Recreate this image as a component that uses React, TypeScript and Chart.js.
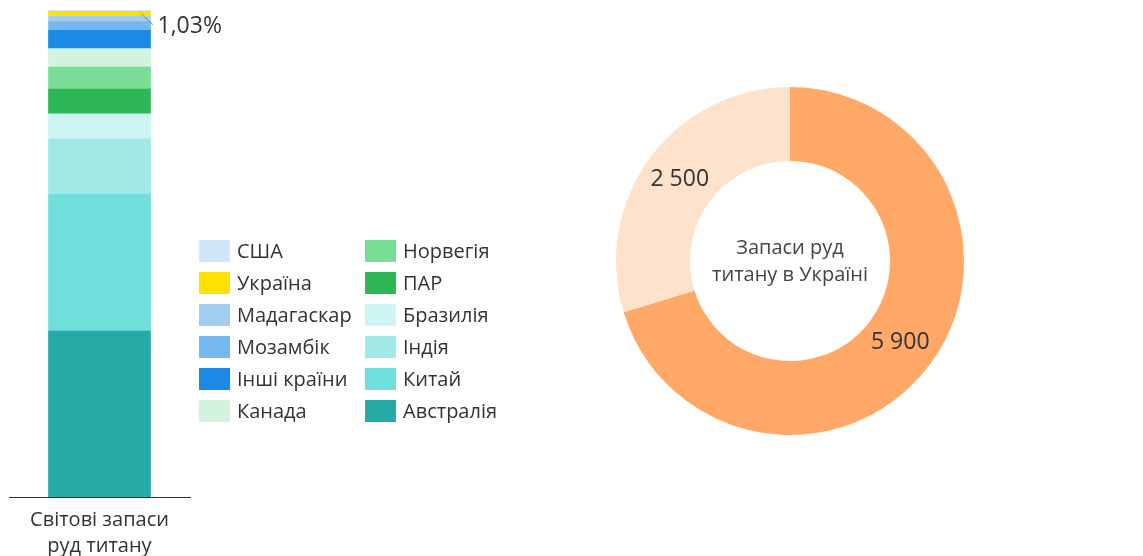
import React, { useEffect, useRef } from 'react';
import { Chart, registerables } from 'chart.js';
Chart.register(...registerables);

const FONT = "'Open Sans', sans-serif";
const TEXT = '#333333';

// ---- Left: world reserves (stacked bar, % share) ----
const barCategory = [['Світові запаси', 'руд титану']];
const countries = ['Австралія', 'Китай', 'Індія', 'Бразилія', 'ПАР', 'Норвегія', 'Канада', 'Інші країни', 'Мозамбік', 'Мадагаскар', 'Україна', 'США'];
const countryShares = [34.1, 28.1, 11.4, 5.1, 5.1, 4.5, 3.8, 3.76, 1.8, 1.1, 1.03, 0.25];
const countryColors = ['#26AAA7', '#6EDFDB', '#A0E9E7', '#CEF5F3', '#2EB757', '#79DE95', '#D2F4DE', '#1A8AE5', '#74B8EE', '#A3CEF1', '#FFE100', '#D0E7FA'];
const highlightCountry = 'Україна';
const highlightLabel = '1,03%';

// ---- Right: Ukraine reserves (doughnut) ----
const oreTypes = ['Ільменіт', 'Рутил'];
const oreReserves = [5900, 2500];
const oreColors = ['#FFA867', '#FFE2CC'];
const oreValueLabels = ['5 900', '2 500'];
const centerTitle = ['Запаси руд', 'титану в Україні'];

const barLegendPlugin = {
  id: 'barLegend',
  afterDraw(chart: any) {
    const ctx = chart.ctx;
    const ds = chart.data.datasets.slice().reverse();
    const x0 = chart.chartArea.right + 9;
    const colW = 166;
    const y0 = 240;
    const rowH = 32;
    ctx.save();
    ctx.font = `20px ${FONT}`;
    ctx.textBaseline = 'middle';
    ctx.textAlign = 'left';
    ds.forEach((d: any, i: number) => {
      const col = Math.floor(i / 6);
      const row = i % 6;
      const x = x0 + col * colW;
      const y = y0 + row * rowH;
      ctx.fillStyle = d.backgroundColor;
      ctx.fillRect(x, y, 31, 22);
      ctx.fillStyle = TEXT;
      ctx.fillText(d.label, x + 38, y + 12);
    });
    ctx.restore();
  },
};

const highlightPlugin = {
  id: 'highlight',
  afterDatasetsDraw(chart: any) {
    const idx = chart.data.datasets.findIndex((d: any) => d.label === highlightCountry);
    if (idx < 0) return;
    const el = chart.getDatasetMeta(idx).data[0];
    if (!el) return;
    const cy = (el.y + el.base) / 2;
    const ctx = chart.ctx;
    ctx.save();
    ctx.strokeStyle = '#8a8a8a';
    ctx.lineWidth = 1;
    ctx.beginPath();
    ctx.moveTo(el.x + 41.5, cy);
    ctx.lineTo(el.x + 53.5, cy + 11);
    ctx.stroke();
    ctx.fillStyle = TEXT;
    ctx.font = `23px ${FONT}`;
    ctx.textBaseline = 'middle';
    ctx.textAlign = 'left';
    ctx.fillText(highlightLabel, el.x + 58, cy + 13);
    ctx.restore();
  },
};

const doughnutPlugin = {
  id: 'doughnutExtras',
  afterDraw(chart: any) {
    const ctx = chart.ctx;
    const area = chart.chartArea;
    const cx = (area.left + area.right) / 2;
    const cy = (area.top + area.bottom) / 2;
    const meta = chart.getDatasetMeta(0);
    ctx.save();
    // value labels
    ctx.fillStyle = TEXT;
    ctx.font = `23px ${FONT}`;
    ctx.textAlign = 'center';
    ctx.textBaseline = 'middle';
    meta.data.forEach((arc: any, i: number) => {
      const p = arc.tooltipPosition();
      ctx.fillText(oreValueLabels[i], p.x, p.y);
    });
    // center title
    ctx.font = `20px ${FONT}`;
    ctx.fillStyle = '#444444';
    ctx.fillText(centerTitle[0], cx, cy - 13);
    ctx.fillText(centerTitle[1], cx, cy + 14);
    // legend
    const lx = area.right + 231;
    const ly = 244;
    ctx.textAlign = 'left';
    chart.data.labels.forEach((lab: string, i: number) => {
      const y = ly + i * 32;
      ctx.fillStyle = chart.data.datasets[0].backgroundColor[i];
      ctx.fillRect(lx, y, 31, 22);
      ctx.fillStyle = TEXT;
      ctx.fillText(lab, lx + 39, y + 12);
    });
    ctx.restore();
  },
};

export default function App() {
  const barRef = useRef<HTMLCanvasElement>(null);
  const pieRef = useRef<HTMLCanvasElement>(null);

  useEffect(() => {
    const total = countryShares.reduce((a, b) => a + b, 0);
    const bar = new Chart(barRef.current!, {
      type: 'bar',
      data: {
        labels: barCategory as any,
        datasets: countries.map((c, i) => ({
          label: c,
          data: [countryShares[i]],
          backgroundColor: countryColors[i],
          borderWidth: 0,
          barThickness: 102,
        })),
      },
      options: {
        animation: false,
        responsive: false,
        maintainAspectRatio: false,
        layout: { padding: { left: 9, right: 370, top: 10, bottom: 0 } },
        plugins: { legend: { display: false }, tooltip: { enabled: false } },
        scales: {
          x: {
            stacked: true,
            grid: { display: false, drawTicks: false },
            border: { display: true, color: '#333333', width: 1 },
            ticks: { padding: 10, color: TEXT, font: { size: 20, family: FONT, lineHeight: 1.3 } },
            afterFit: (s: any) => { s.height = 59; },
          },
          y: { stacked: true, display: false, min: 0, max: total },
        },
      },
      plugins: [barLegendPlugin, highlightPlugin],
    } as any);

    const pie = new Chart(pieRef.current!, {
      type: 'doughnut',
      data: {
        labels: oreTypes,
        datasets: [{ data: oreReserves, backgroundColor: oreColors, borderWidth: 0 }],
      },
      options: {
        animation: false,
        responsive: false,
        maintainAspectRatio: false,
        cutout: '57.5%',
        layout: { padding: { left: 56, right: 179, top: 87, bottom: 121 } },
        plugins: { legend: { display: false }, tooltip: { enabled: false } },
      },
      plugins: [doughnutPlugin],
    } as any);

    return () => { bar.destroy(); pie.destroy(); };
  }, []);

  return (
    <div style={{ position: 'fixed', left: 0, top: 0, width: 1143, height: 556, background: '#fff' }}>
      <canvas ref={barRef} width={560} height={556} style={{ position: 'absolute', left: 0, top: 0, width: 560, height: 556 }} />
      <canvas ref={pieRef} width={583} height={556} style={{ position: 'absolute', left: 560, top: 0, width: 583, height: 556 }} />
    </div>
  );
}
